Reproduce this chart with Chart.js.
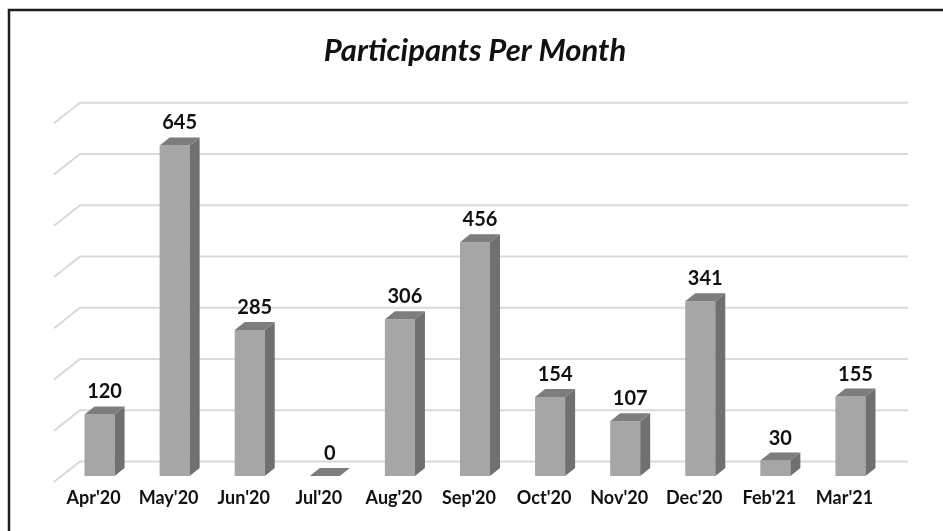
<!DOCTYPE html>
<html>
<head>
<meta charset="utf-8">
<script src="https://cdn.jsdelivr.net/npm/chart.js@4/dist/chart.umd.min.js"></script>
<style>
  html, body { margin: 0; padding: 0; background: #fff; }
  #wrap { position: relative; width: 943px; height: 531px; }
</style>
</head>
<body>
<div id="wrap"><canvas id="chart"></canvas></div>
<script>
const months = ["Apr'20", "May'20", "Jun'20", "Jul'20", "Aug'20", "Sep'20", "Oct'20", "Nov'20", "Dec'20", "Feb'21", "Mar'21"];
const participants = [120, 645, 285, 0, 306, 456, 154, 107, 341, 30, 155];
const yMax = 700;
const yStep = 100;

// depth of the fake 3D bars and of the back wall
const DEPTH_X = 10, DEPTH_Y = 8;
const WALL_Y = 14.5;

const framePlugin = {
  id: 'frame',
  beforeDraw(chart) {
    const ctx = chart.ctx;
    ctx.save();
    ctx.fillStyle = '#fff';
    ctx.fillRect(0, 0, chart.width, chart.height);
    ctx.strokeStyle = '#1e1e1e';
    ctx.lineWidth = 2.5;
    ctx.strokeRect(9, 10, chart.width + 20, chart.height + 20);
    ctx.restore();
  }
};

const wallPlugin = {
  id: 'wall',
  beforeDatasetsDraw(chart) {
    const ctx = chart.ctx;
    const y = chart.scales.y;
    ctx.save();
    ctx.strokeStyle = '#d9d9d9';
    ctx.lineWidth = 2;
    for (let v = 0; v <= yMax; v += yStep) {
      const p = y.getPixelForValue(v);
      ctx.beginPath();
      ctx.moveTo(54, p + 6);
      ctx.lineTo(80, p - WALL_Y);
      ctx.lineTo(908, p - WALL_Y);
      ctx.stroke();
    }
    ctx.restore();
  }
};

const bars3dPlugin = {
  id: 'bars3d',
  afterDatasetsDraw(chart) {
    const ctx = chart.ctx;
    const meta = chart.getDatasetMeta(0);
    ctx.save();
    meta.data.forEach((bar, i) => {
      const l = bar.x - bar.width / 2, r = bar.x + bar.width / 2;
      const top = bar.y, base = bar.base;
      // side face
      ctx.fillStyle = '#707070';
      ctx.beginPath();
      ctx.moveTo(r, top);
      ctx.lineTo(r + DEPTH_X, top - DEPTH_Y);
      ctx.lineTo(r + DEPTH_X, base - DEPTH_Y);
      ctx.lineTo(r, base);
      ctx.closePath();
      ctx.fill();
      // top face
      ctx.fillStyle = '#7d7d7d';
      ctx.beginPath();
      ctx.moveTo(l, top);
      ctx.lineTo(l + DEPTH_X, top - DEPTH_Y);
      ctx.lineTo(r + DEPTH_X, top - DEPTH_Y);
      ctx.lineTo(r, top);
      ctx.closePath();
      ctx.fill();

      // value label
      ctx.fillStyle = '#111';
      ctx.font = 'bold 20px Lato';
      ctx.textAlign = 'center';
      ctx.textBaseline = 'alphabetic';
      ctx.fillText(String(participants[i]), bar.x + DEPTH_X / 2, top - 16);
    });
    ctx.restore();
  }
};

new Chart(document.getElementById('chart'), {
  type: 'bar',
  data: {
    labels: months,
    datasets: [{
      label: 'Participants',
      data: participants,
      backgroundColor: '#a6a6a6',
      borderWidth: 0,
      barPercentage: 0.4,
      categoryPercentage: 1.0
    }]
  },
  options: {
    responsive: true,
    maintainAspectRatio: false,
    animation: false,
    layout: { padding: { left: 62, right: 55, top: 0, bottom: 0 } },
    plugins: {
      legend: { display: false },
      tooltip: { enabled: false },
      title: {
        display: true,
        text: 'Participants Per Month',
        color: '#111',
        font: { family: 'Lato', size: 31, weight: 'bold', style: 'italic', lineHeight: 1.2 },
        padding: { top: 32, bottom: 48 }
      }
    },
    scales: {
      x: {
        grid: { display: false, drawTicks: false },
        border: { display: false },
        ticks: {
          color: '#111',
          font: { family: 'Lato', size: 18, weight: 'bold' },
          padding: 11,
          labelOffset: -6,
          maxRotation: 0
        },
        afterFit(scale) { scale.height = 55; }
      },
      y: {
        min: 0,
        max: yMax,
        ticks: { display: false, stepSize: yStep },
        grid: { display: false },
        border: { display: false },
        afterFit(scale) { scale.width = 0; }
      }
    }
  },
  plugins: [framePlugin, wallPlugin, bars3dPlugin]
});
</script>
</body>
</html>
